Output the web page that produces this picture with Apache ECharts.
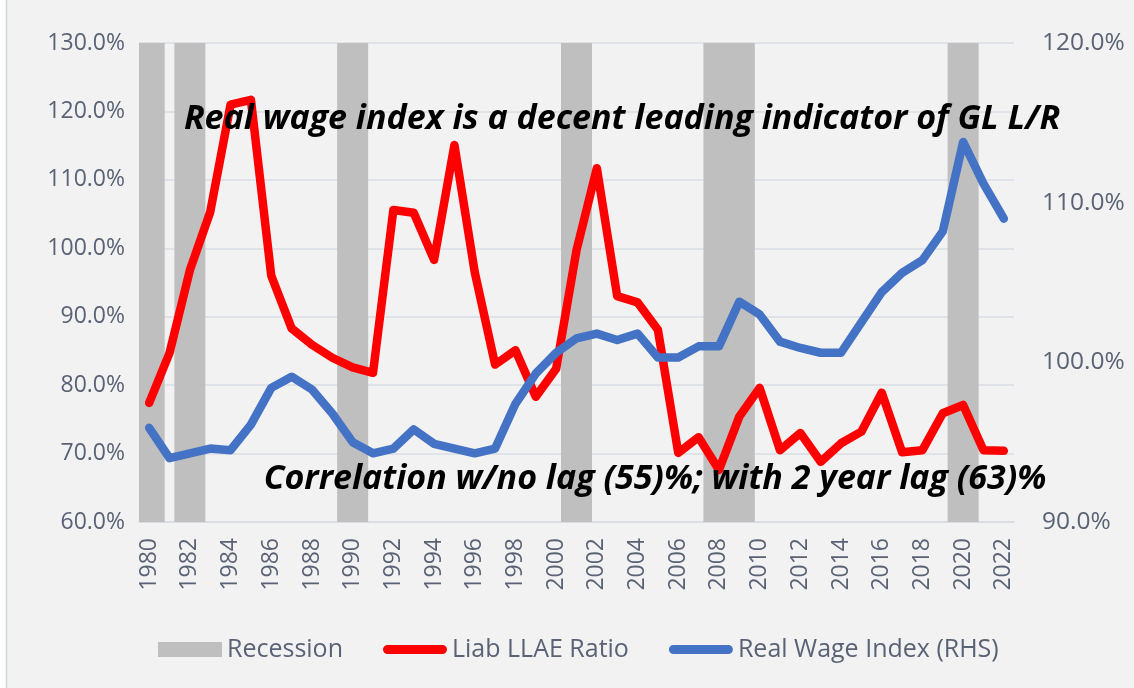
<!DOCTYPE html>
<html>
<head>
<meta charset="utf-8">
<script src="https://cdn.jsdelivr.net/npm/echarts@6/dist/echarts.min.js"></script>
<style>
  html, body { margin: 0; padding: 0; background: #f2f2f2; }
  #chart { width: 1134px; height: 688px; }
</style>
</head>
<body>
<div id="chart"></div>
<script>
// data
var years = ['1980','1981','1982','1983','1984','1985','1986','1987','1988','1989',
  '1990','1991','1992','1993','1994','1995','1996','1997','1998','1999',
  '2000','2001','2002','2003','2004','2005','2006','2007','2008','2009',
  '2010','2011','2012','2013','2014','2015','2016','2017','2018','2019',
  '2020','2021','2022'];

// Liab LLAE Ratio, % (left axis)
var liabRatio = [77.4, 84.7, 96.8, 105.3, 121.0, 121.7, 96.0, 88.3, 85.9, 84.0,
  82.6, 81.8, 105.6, 105.2, 98.3, 115.1, 96.5, 83.0, 85.1, 78.3,
  82.4, 99.7, 111.7, 93.0, 92.1, 88.1, 70.1, 72.4, 67.6, 75.4,
  79.6, 70.5, 73.0, 68.8, 71.5, 73.2, 78.9, 70.2, 70.5, 75.9,
  77.1, 70.5, 70.4];

// Real Wage Index, % (right axis)
var realWage = [95.9, 94.0, 94.3, 94.6, 94.5, 96.1, 98.4, 99.1, 98.3, 96.8,
  95.0, 94.3, 94.6, 95.8, 94.9, 94.6, 94.3, 94.6, 97.4, 99.3,
  100.6, 101.5, 101.8, 101.4, 101.8, 100.3, 100.3, 101.0, 101.0, 103.8,
  103.0, 101.3, 100.9, 100.6, 100.6, 102.5, 104.4, 105.6, 106.4, 108.2,
  113.8, 111.2, 109.0];

var recessionYears = ['1980', '1982', '1990', '2001', '2008', '2009', '2020'];

var leftTicks = { min: 60, max: 130, step: 10 };
var rightTicks = { min: 90, max: 120, step: 10 };

var recession = years.map(function (y) {
    return recessionYears.indexOf(y) >= 0 ? 1 : '-';
});

var labelColor = '#5a6275';
var gridColor = '#d9dce2';
// capsule shaped legend mark for the two lines
var lineIcon = 'path://M5,0 L65,0 A5,5 0 0 1 65,10 L5,10 A5,5 0 0 1 5,0 Z';

var myChart = echarts.init(document.getElementById('chart'));

var option = {
    backgroundColor: '#f2f2f2',
    animation: false,
    textStyle: { fontFamily: 'Open Sans' },
    grid: { left: 139, right: 120, top: 43, bottom: 166 },
    legend: {
        left: 153,
        top: 632,
        itemWidth: 64,
        itemHeight: 15,
        itemGap: 40,
        textStyle: { fontSize: 25, color: labelColor, fontFamily: 'Open Sans' },
        data: [
            { name: 'Recession', icon: 'rect' },
            { name: 'Liab LLAE Ratio', icon: lineIcon },
            { name: 'Real Wage Index (RHS)', icon: lineIcon }
        ]
    },
    xAxis: {
        type: 'category',
        data: years,
        boundaryGap: true,
        axisTick: { show: false },
        axisLine: { lineStyle: { color: gridColor, width: 1.5 } },
        axisLabel: {
            interval: 1,
            rotate: 90,
            margin: 16,
            fontSize: 23,
            color: labelColor
        }
    },
    yAxis: [
        {
            type: 'value',
            min: leftTicks.min,
            max: leftTicks.max,
            interval: leftTicks.step,
            axisLine: { show: false },
            axisTick: { show: false },
            splitLine: { lineStyle: { color: gridColor, width: 1.5 } },
            axisLabel: {
                margin: 14,
                fontSize: 23,
                color: labelColor,
                formatter: function (v) { return v.toFixed(1) + '%'; }
            }
        },
        {
            type: 'value',
            min: rightTicks.min,
            max: rightTicks.max,
            interval: rightTicks.step,
            position: 'right',
            axisLine: { show: false },
            axisTick: { show: false },
            splitLine: { show: false },
            axisLabel: {
                margin: 28,
                fontSize: 24.5,
                color: labelColor,
                formatter: function (v) { return v.toFixed(1) + '%'; }
            }
        },
        {
            type: 'value',
            min: 0,
            max: 1,
            show: false
        }
    ],
    graphic: [
        {
            type: 'text',
            silent: true,
            z: 100,
            style: {
                text: 'Real wage index is a decent leading indicator of GL L/R',
                x: 622, y: 119,
                textAlign: 'center',
                textVerticalAlign: 'middle',
                font: 'italic bold 34px "Open Sans"',
                fill: '#000'
            }
        },
        {
            type: 'text',
            silent: true,
            z: 100,
            style: {
                text: 'Correlation w/no lag (55)%; with 2 year lag (63)%',
                x: 655, y: 479,
                textAlign: 'center',
                textVerticalAlign: 'middle',
                font: 'italic bold 34px "Open Sans"',
                fill: '#000'
            }
        },
        {
            type: 'rect',
            silent: true,
            shape: { x: 0, y: 0, width: 6, height: 688 },
            style: { fill: '#ffffff' }
        },
        {
            type: 'line',
            silent: true,
            shape: { x1: 6.5, y1: 0, x2: 6.5, y2: 688 },
            style: { stroke: '#d0d4dc', lineWidth: 1.5 }
        }
    ],
    series: [
        {
            name: 'Recession',
            type: 'bar',
            yAxisIndex: 2,
            data: recession,
            barWidth: 31,
            itemStyle: { color: '#bfbfbf' },
            silent: true
        },
        {
            name: 'Liab LLAE Ratio',
            type: 'line',
            yAxisIndex: 0,
            data: liabRatio,
            showSymbol: false,
            symbol: 'none',
            lineStyle: { color: '#ff0000', width: 8.5, join: 'round', cap: 'round' },
            itemStyle: { color: '#ff0000' }
        },
        {
            name: 'Real Wage Index (RHS)',
            type: 'line',
            yAxisIndex: 1,
            data: realWage,
            showSymbol: false,
            symbol: 'none',
            lineStyle: { color: '#4472c4', width: 8.5, join: 'round', cap: 'round' },
            itemStyle: { color: '#4472c4' }
        }
    ]
};

myChart.setOption(option);
</script>
</body>
</html>
